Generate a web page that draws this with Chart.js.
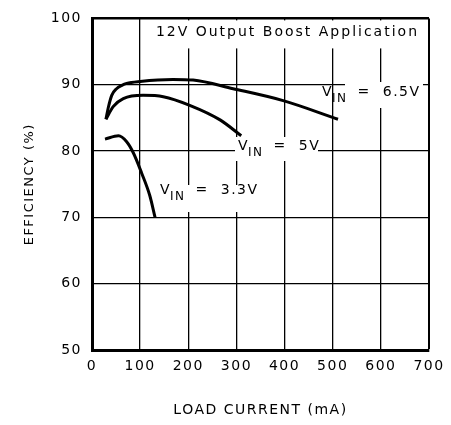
<!DOCTYPE html>
<html>
<head>
<meta charset="utf-8">
<script src="https://cdn.jsdelivr.net/npm/chart.js@4.4.1/dist/chart.umd.min.js"></script>
<style>
    html, body { margin: 0; padding: 0; background: #fff; }
    #wrap { width: 451px; height: 425px; }
</style>
</head>
<body>
<div id="wrap"><canvas id="chart"></canvas></div>
<script>
// load current (mA) / efficiency (%)
const vin65Current = [29, 34, 41, 51, 62, 72, 100, 168, 210, 293, 397, 511];
const vin65Eff = [84.8, 86.6, 88.4, 89.4, 89.9, 90.2, 90.5, 90.8, 90.7, 89.4, 87.6, 84.8];

const vin5Current = [29, 44, 65, 106, 148, 203, 266, 310];
const vin5Eff = [84.8, 86.7, 87.9, 88.4, 88.2, 86.9, 84.7, 82.3];

const vin33Current = [27, 55, 72, 86, 103, 120, 131];
const vin33Eff = [81.8, 82.3, 81.4, 79.7, 76.7, 73.3, 70.0];

const xTicks = [0, 100, 200, 300, 400, 500, 600, 700];
const yTicks = [50, 60, 70, 80, 90, 100];

const FONT = '"DejaVu Sans", sans-serif';

function pts(xs, ys) {
    return xs.map((x, i) => ({ x: x, y: ys[i] }));
}

function curve(label, xs, ys) {
    return {
        label: label,
        data: pts(xs, ys),
        borderColor: '#000',
        borderWidth: 3,
        pointRadius: 0,
        cubicInterpolationMode: 'monotone',
        fill: false,
    };
}

// draws "V" + subscript "IN" + rest, left edge at px, vertical centre at py
function vinLabel(ctx, px, py, rest) {
    ctx.textAlign = 'left';
    ctx.textBaseline = 'middle';
    ctx.font = '14px ' + FONT;
    ctx.fillText('V', px, py);
    let w = ctx.measureText('V').width;
    ctx.font = '12px ' + FONT;
    ctx.fillText('IN', px + w - 1, py + 7);
    w += ctx.measureText('IN').width;
    ctx.font = '14px ' + FONT;
    ctx.fillText(rest, px + w + 9, py);
}

const notes = {
    id: 'notes',
    beforeDraw(chart) {
        chart.ctx.letterSpacing = '1.5px';
    },
    beforeDatasetsDraw(chart) {
        const { ctx, chartArea: a } = chart;
        ctx.save();
        // white boxes break the grid under the texts
        ctx.fillStyle = '#fff';
        ctx.fillRect(150, a.top + 2, a.right - 152, 28);
        ctx.fillRect(345, 82, 78, 26);
        ctx.fillRect(235, 137, 83, 24);
        ctx.fillRect(157, 185, 106, 27);

        ctx.fillStyle = '#000';
        ctx.letterSpacing = '2px';
        ctx.font = '14px ' + FONT;
        ctx.textAlign = 'right';
        ctx.textBaseline = 'middle';
        ctx.fillText('12V Output Boost Application', a.right - 10, a.top + 14);

        ctx.letterSpacing = '1.5px';
        vinLabel(ctx, 322, 92, '=  6.5V');
        vinLabel(ctx, 238, 146, '=  5V');
        vinLabel(ctx, 160, 190, '=  3.3V');
        ctx.restore();
    }
};

new Chart(document.getElementById('chart'), {
    type: 'line',
    data: {
        datasets: [
            curve('VIN = 6.5V', vin65Current, vin65Eff),
            curve('VIN = 5V', vin5Current, vin5Eff),
            curve('VIN = 3.3V', vin33Current, vin33Eff),
        ]
    },
    options: {
        responsive: true,
        maintainAspectRatio: false,
        animation: false,
        layout: { padding: { top: 14, right: 22, left: 0, bottom: 0 } },
        plugins: {
            legend: { display: false },
            tooltip: { enabled: false },
        },
        scales: {
            x: {
                type: 'linear',
                min: 0,
                max: 700,
                afterFit: (s) => { s.height = 75; },
                afterBuildTicks: (s) => { s.ticks = xTicks.map(v => ({ value: v })); },
                border: { color: '#000', width: 3 },
                grid: {
                    color: '#000',
                    lineWidth: (c) => (c.tick && c.tick.value === 700 ? 2 : 1.3),
                    drawTicks: false,
                },
                ticks: {
                    color: '#000',
                    padding: 8,
                    font: { family: FONT, size: 14 },
                },
                title: {
                    display: true,
                    text: 'LOAD CURRENT (mA)',
                    color: '#000',
                    font: { family: FONT, size: 14 },
                    padding: { top: 0, bottom: 6 },
                },
            },
            y: {
                min: 50,
                max: 100,
                afterFit: (s) => { s.width = 92; },
                afterBuildTicks: (s) => { s.ticks = yTicks.map(v => ({ value: v })); },
                border: { color: '#000', width: 3 },
                grid: {
                    color: '#000',
                    lineWidth: (c) => (c.tick && c.tick.value === 100 ? 2.5 : 1.3),
                    drawTicks: false,
                },
                ticks: {
                    color: '#000',
                    padding: 10,
                    font: { family: FONT, size: 14 },
                },
                title: {
                    display: true,
                    text: 'EFFICIENCY (%)',
                    color: '#000',
                    font: { family: FONT, size: 13 },
                    padding: { top: 22, bottom: 0 },
                },
            },
        },
    },
    plugins: [notes],
});
</script>
</body>
</html>
